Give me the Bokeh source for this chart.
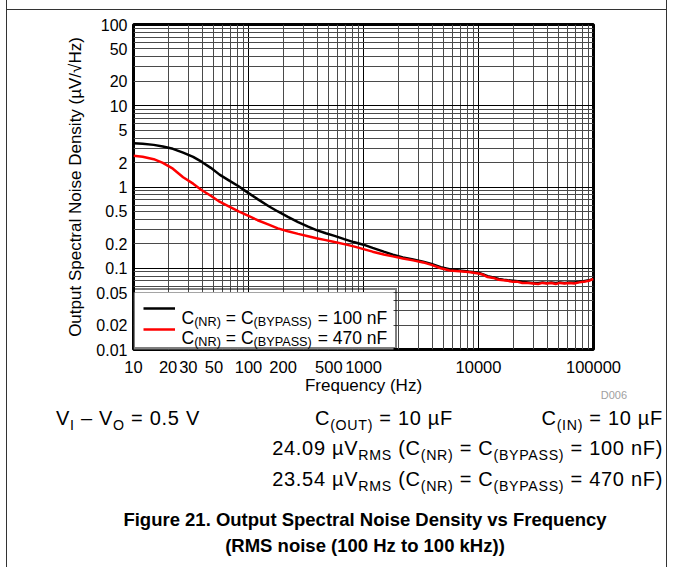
from bokeh.plotting import figure
from bokeh.models import FixedTicker, Label, Legend, LegendItem, Div, Spacer, BoxAnnotation
from bokeh.layouts import row, column
from bokeh.core.properties import value
from bokeh.embed import file_html
from bokeh.resources import INLINE

# ---------------- data ----------------
freq = [10, 12, 15, 18, 22, 27, 33, 39, 47, 56, 68, 82, 100, 120, 150, 180, 220, 270,
        330, 390, 470, 560, 680, 820, 1000, 1200, 1500, 1800, 2200, 2700, 3300, 3900,
        4700, 5600, 6800, 8200, 10000, 11000, 12000, 13500, 15000, 16500, 18000, 20000,
        22000, 24000, 27000, 30000, 33000, 36000, 39000, 43000, 47000, 51000, 56000,
        62000, 68000, 75000, 82000, 91000, 100000]
noise_100nF = [3.45, 3.4, 3.3, 3.15, 2.95, 2.65, 2.35, 2.05, 1.72, 1.42, 1.2, 1.02, 0.84,
               0.71, 0.58, 0.5, 0.43, 0.37, 0.325, 0.295, 0.27, 0.25, 0.228, 0.21, 0.195,
               0.178, 0.16, 0.147, 0.136, 0.128, 0.12, 0.113, 0.103, 0.097, 0.094, 0.091,
               0.088, 0.084, 0.08, 0.077, 0.074, 0.072, 0.071, 0.07, 0.069, 0.068, 0.067,
               0.066, 0.066, 0.067, 0.066, 0.067, 0.066, 0.067, 0.066, 0.067, 0.067,
               0.068, 0.069, 0.071, 0.074]
noise_470nF = [2.42, 2.36, 2.2, 1.98, 1.68, 1.32, 1.1, 0.92, 0.78, 0.66, 0.575, 0.5, 0.44,
               0.39, 0.345, 0.31, 0.285, 0.265, 0.248, 0.234, 0.222, 0.21, 0.198, 0.186,
               0.172, 0.16, 0.148, 0.14, 0.132, 0.125, 0.118, 0.11, 0.1, 0.094, 0.092,
               0.09, 0.086, 0.083, 0.078, 0.076, 0.072, 0.071, 0.07, 0.068, 0.068, 0.066,
               0.066, 0.065, 0.064, 0.066, 0.065, 0.066, 0.064, 0.066, 0.065, 0.066,
               0.065, 0.067, 0.068, 0.07, 0.074]

x_ticks = [10, 20, 30, 50, 100, 200, 500, 1000, 10000, 100000]
x_tick_labels = ["10", "20", "30", "50", "100", "200", "500", "1000", "10000", "100000"]
y_ticks = [0.01, 0.02, 0.05, 0.1, 0.2, 0.5, 1, 2, 5, 10, 20, 50, 100]
y_tick_labels = ["0.01", "0.02", "0.05", "0.1", "0.2", "0.5", "1", "2", "5", "10", "20", "50", "100"]
x_decades = [10, 100, 1000, 10000, 100000]
y_decades = [0.01, 0.1, 1, 10, 100]
x_minor = [m * d for d in [10, 100, 1000, 10000] for m in range(2, 10)]
y_minor = [m * d for d in [0.01, 0.1, 1, 10] for m in range(2, 10)]

FONT = "Liberation Sans"

# ---------------- figure ----------------
p = figure(width=659, height=395, x_axis_type="log", y_axis_type="log",
           x_range=(10, 100000), y_range=(0.01, 100),
           output_backend="svg", toolbar_location=None,
           min_border_left=126, min_border_right=73, min_border_top=14, min_border_bottom=56,
           x_axis_label="Frequency (Hz)",
           y_axis_label="Output Spectral Noise Density (µV/√Hz)")
p.margin = 0
p.background_fill_color = "white"
p.border_fill_color = "white"
p.outline_line_color = "black"
p.outline_line_width = 3

p.xaxis.ticker = FixedTicker(ticks=x_ticks)
p.yaxis.ticker = FixedTicker(ticks=y_ticks)
p.xaxis.major_label_overrides = {t: l for t, l in zip(x_ticks, x_tick_labels)}
p.yaxis.major_label_overrides = {t: l for t, l in zip(y_ticks, y_tick_labels)}

for ax in (p.xaxis, p.yaxis):
    ax.axis_line_color = None
    ax.major_tick_line_color = None
    ax.minor_tick_line_color = None
    ax.major_tick_out = 0
    ax.major_tick_in = 0
    ax.major_label_text_font = FONT
    ax.major_label_text_color = "black"
    ax.axis_label_text_font = FONT
    ax.axis_label_text_font_style = "normal"
    ax.axis_label_text_color = "black"
    ax.axis_label_text_font_size = "17px"

p.xaxis.major_label_text_font_size = "16.5px"
p.yaxis.major_label_text_font_size = "16px"
p.xaxis.major_label_standoff = 11
p.yaxis.major_label_standoff = 6
p.xaxis.axis_label_standoff = 0
p.yaxis.axis_label_standoff = 8

p.xgrid.ticker = FixedTicker(ticks=x_decades, minor_ticks=x_minor)
p.ygrid.ticker = FixedTicker(ticks=y_decades, minor_ticks=y_minor)
for g in (p.xgrid, p.ygrid):
    g.grid_line_color = "black"
    g.grid_line_width = 1
    g.minor_grid_line_color = "#4a4a4a"
    g.minor_grid_line_width = 1

r_black = p.line(freq, noise_100nF, line_color="black", line_width=2.5)
r_red = p.line(freq, noise_470nF, line_color="#ff0000", line_width=2.5)

# white backing for the legend (beneath texts), frame-relative pixels
p.add_layout(BoxAnnotation(left=0, right=260, bottom=0, top=57,
                           left_units="screen", right_units="screen",
                           bottom_units="screen", top_units="screen",
                           fill_color="white", fill_alpha=1, line_color=None,
                           level="underlay"))

legend = Legend(items=[LegendItem(label=value(" "), renderers=[r_black]),
                       LegendItem(label=value(" "), renderers=[r_red])],
                location=(0, 0), padding=8, spacing=1, margin=0,
                glyph_width=32, glyph_height=20, label_height=20,
                label_standoff=6, label_width=206, label_text_font_size="13px",
                border_line_color="black", border_line_width=2,
                background_fill_alpha=0)
p.add_layout(legend)

# legend texts with subscripts (Arial / Liberation Sans advance widths)
W = {' ': 278, '(': 333, ')': 333, '=': 584, 'C': 722, 'N': 722, 'R': 722, 'B': 667,
     'Y': 667, 'P': 667, 'A': 667, 'S': 667, 'n': 556, 'F': 611}


def tw(s, size):
    return sum(W.get(c, 556) for c in s) * size / 1000.0


def rich(runs, x0, base):
    x = x0
    for txt, size, dy in runs:
        lead = len(txt) - len(txt.lstrip(" "))
        x += tw(" " * lead, size)
        core = txt.strip(" ")
        p.add_layout(Label(x=10, y=0.01, x_offset=x, y_offset=base + dy, text=core,
                           text_font=FONT, text_font_size=f"{size}px",
                           text_color="black", text_align="left",
                           text_baseline="alphabetic"))
        x += tw(core, size)
        trail = len(txt) - len(txt.rstrip(" "))
        x += tw(" " * trail, size)


M, S = 17.5, 12.7
legend_caps = ["100 nF", "470 nF"]
for cap, base in zip(legend_caps, [32, 12]):
    rich([("C", M, 0), ("(NR)", S, -4), (" = C", M, 0), ("(BYPASS)", S, -4),
          (" = " + cap, M, 0)], 48, base)

# ---------------- text below the chart ----------------
FF = "'Liberation Sans', Arial, sans-serif"


def sb(t):
    return f'<span style="font-size:14.2px;position:relative;top:5px;">{t}</span>'


base_style = "position:absolute;font-size:20px;line-height:20px;letter-spacing:0.7px;white-space:nowrap;"
html = f'''<div style="position:relative;width:659px;height:162px;font-family:{FF};color:#000;">
<div style="position:absolute;right:39px;top:-15px;font-size:11px;line-height:11px;color:#a0a0a0;white-space:nowrap;">D006</div>
<div style="{base_style}left:49px;top:3px;">V{sb("I")} – V{sb("O")} = 0.5 V</div>
<div style="{base_style}right:213px;top:3px;text-align:right;">C{sb("(OUT)")} = 10 µF</div>
<div style="{base_style}right:3px;top:3px;text-align:right;">C{sb("(IN)")} = 10 µF</div>
<div style="{base_style}right:3px;top:33px;text-align:right;">24.09 µV{sb("RMS")} (C{sb("(NR)")} = C{sb("(BYPASS)")} = 100 nF)</div>
<div style="{base_style}right:3px;top:64px;text-align:right;">23.54 µV{sb("RMS")} (C{sb("(NR)")} = C{sb("(BYPASS)")} = 470 nF)</div>
<div style="position:absolute;left:58px;top:102px;width:600px;text-align:center;font-size:18.5px;line-height:26px;font-weight:bold;">Figure 21. Output Spectral Noise Density vs Frequency<br>(RMS noise (100 Hz to 100 kHz))</div>
</div>'''
bottom = Div(text=html, width=659, height=162, margin=0)

hline = Div(text="", width=659, height=1, margin=0, styles={"background-color": "#333"})
vline_l = Div(text="", width=1, height=567, margin=0, styles={"background-color": "#333"})
vline_r = Div(text="", width=1, height=567, margin=0, styles={"background-color": "#333"})

content = column(Spacer(width=659, height=9, margin=0), hline, p, bottom,
                 width=659, height=567, margin=0, spacing=0)
layout = row(Spacer(width=6, height=567, margin=0), vline_l, content, vline_r,
             Spacer(width=6, height=567, margin=0), width=673, height=567, margin=0, spacing=0)

open("out.html", "w").write(file_html(layout, INLINE))
